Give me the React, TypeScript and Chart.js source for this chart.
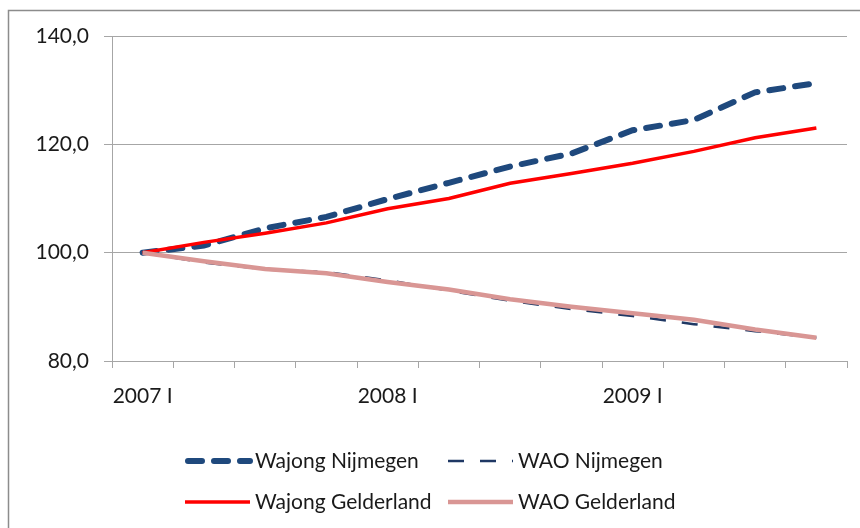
import React, { useEffect, useRef } from 'react';
import { Chart, registerables } from 'chart.js';

Chart.register(...registerables);

const quarters = [
  '2007 I', '2007 II', '2007 III', '2007 IV',
  '2008 I', '2008 II', '2008 III', '2008 IV',
  '2009 I', '2009 II', '2009 III', '2009 IV',
];
const wajongNijmegen = [100, 101.3, 104.5, 106.6, 109.9, 112.9, 115.9, 118.3, 122.6, 124.5, 129.6, 131.3];
const waoNijmegen = [100, 98.2, 96.9, 96.4, 94.9, 93.0, 91.1, 89.6, 88.3, 86.8, 85.5, 84.3];
const wajongGelderland = [100, 101.9, 103.6, 105.5, 108.1, 110.0, 112.8, 114.6, 116.5, 118.7, 121.2, 123.0];
const waoGelderland = [100, 98.4, 97.0, 96.2, 94.6, 93.2, 91.4, 90.0, 88.8, 87.6, 85.8, 84.3];
const seriesNames = ['Wajong Nijmegen', 'WAO Nijmegen', 'Wajong Gelderland', 'WAO Gelderland'];
const yMin = 80;
const yMax = 140;
const yStep = 20;

const FONT = 'Lato, "Open Sans", sans-serif';
const TEXT = '#1a1a1a';
const GRID = '#a6a6a6';

const frameAndLegend = {
  id: 'frameAndLegend',
  beforeDraw(chart: any) {
    const ctx = chart.ctx;
    ctx.save();
    ctx.fillStyle = '#ffffff';
    ctx.fillRect(0, 0, chart.width, chart.height);
    ctx.strokeStyle = '#8c8c8c';
    ctx.lineWidth = 1.5;
    ctx.strokeRect(8.5, 10.5, chart.width + 20, chart.height + 20);
    ctx.restore();
  },
  afterDraw(chart: any) {
    const ctx = chart.ctx;
    const cols = [185, 448];
    const rows = [461, 502];
    const sampleW = 65;
    chart.data.datasets.forEach((ds: any, i: number) => {
      const x = cols[i % 2];
      const y = rows[Math.floor(i / 2)];
      ctx.save();
      ctx.strokeStyle = ds.borderColor;
      ctx.lineWidth = ds.borderWidth;
      ctx.lineCap = ds.borderCapStyle || 'butt';
      ctx.setLineDash(ds.borderDash || []);
      ctx.beginPath();
      ctx.moveTo(x + (ds.borderCapStyle === 'round' ? 3 : 0), y);
      ctx.lineTo(x + sampleW, y);
      ctx.stroke();
      ctx.setLineDash([]);
      ctx.fillStyle = TEXT;
      ctx.font = `21px ${FONT}`;
      ctx.textBaseline = 'middle';
      ctx.textAlign = 'left';
      ctx.fillText(ds.label, x + sampleW + 5, y);
      ctx.restore();
    });
  },
};

export default function App() {
  const ref = useRef<HTMLCanvasElement | null>(null);

  useEffect(() => {
    if (!ref.current) return;
    const chart = new Chart(ref.current, {
      type: 'line',
      data: {
        labels: quarters,
        datasets: [
          {
            label: seriesNames[0],
            data: wajongNijmegen,
            borderColor: '#1f497d',
            borderWidth: 6,
            borderDash: [14, 12],
            borderCapStyle: 'round',
            pointRadius: 0,
            tension: 0,
            order: 4,
          },
          {
            label: seriesNames[1],
            data: waoNijmegen,
            borderColor: '#1f3864',
            borderWidth: 2.5,
            borderDash: [16, 16],
            pointRadius: 0,
            tension: 0,
            order: 3,
          },
          {
            label: seriesNames[2],
            data: wajongGelderland,
            borderColor: '#ff0000',
            borderWidth: 3.5,
            pointRadius: 0,
            tension: 0,
            order: 2,
          },
          {
            label: seriesNames[3],
            data: waoGelderland,
            borderColor: '#d99694',
            borderWidth: 4.5,
            pointRadius: 0,
            tension: 0,
            order: 1,
          },
        ],
      },
      options: {
        responsive: false,
        animation: false,
        layout: { padding: { top: 36, right: 13, bottom: 117, left: 0 } },
        plugins: {
          legend: { display: false },
          tooltip: { enabled: false },
        },
        scales: {
          x: {
            offset: true,
            grid: {
              offset: true,
              drawOnChartArea: false,
              tickLength: 7,
              color: GRID,
            },
            border: { color: GRID },
            ticks: {
              autoSkip: false,
              maxRotation: 0,
              padding: 16,
              color: TEXT,
              font: { family: FONT, size: 21 },
              callback: (_v: any, i: number) => (quarters[i].endsWith(' I') ? quarters[i] : ''),
            },
            afterFit: (s: any) => {
              s.height = 50;
            },
          },
          y: {
            min: yMin,
            max: yMax,
            grid: { color: GRID, tickLength: 8 },
            border: { color: GRID },
            ticks: {
              stepSize: yStep,
              padding: 15,
              color: TEXT,
              font: { family: FONT, size: 21 },
              callback: (v: any) => Number(v).toFixed(1).replace('.', ','),
            },
            afterFit: (s: any) => {
              s.width = 112;
            },
          },
        },
      },
      plugins: [frameAndLegend],
    });
    return () => chart.destroy();
  }, []);

  return (
    <div style={{ position: 'absolute', left: 0, top: 0, width: 860, height: 528 }}>
      <canvas ref={ref} width={860} height={528} />
    </div>
  );
}
